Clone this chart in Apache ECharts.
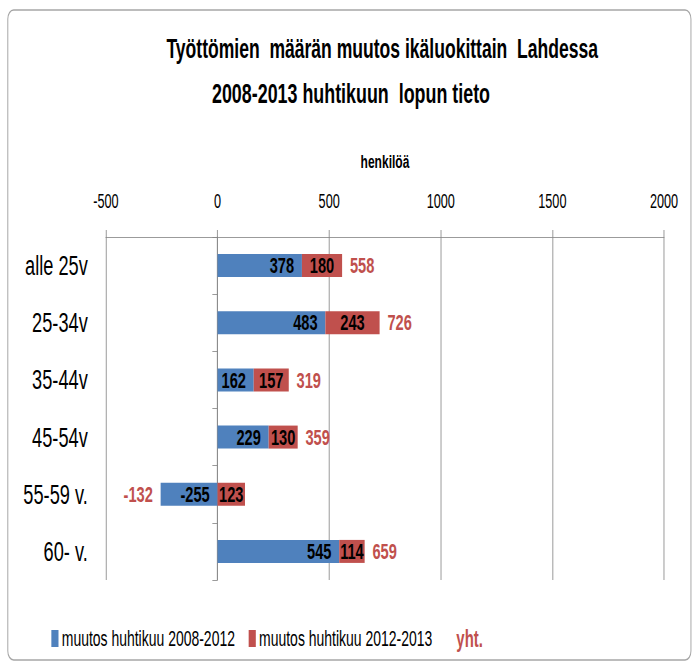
<!DOCTYPE html>
<html>
<head>
<meta charset="utf-8">
<script src="https://cdn.jsdelivr.net/npm/echarts@6/dist/echarts.min.js"></script>
<style>
  html, body { margin: 0; padding: 0; background: #fff; overflow: hidden; }
  #wrap { width: 699px; height: 664px; overflow: hidden; }
  /* Excel-kuvan teksti on kapeaa ja korkeaa: piirretään leveämpänä ja puristetaan vaakasuunnassa */
  #main { width: 1076px; height: 664px; transform: scaleX(0.65); transform-origin: 0 0; }
</style>
</head>
<body>
<div id="wrap"><div id="main"></div></div>
<script>
// ikäluokat ylhäältä alas
const ageGroups = ["alle 25v", "25-34v", "35-44v", "45-54v", "55-59 v.", "60- v."];
// muutokset (henkilöä)
const change2008_2012 = [378, 483, 162, 229, -255, 545];
const change2012_2013 = [180, 243, 157, 130, 123, 114];
const totals = [558, 726, 319, 359, -132, 659];
const xTicks = { min: -500, max: 2000, step: 500 };

const FONT = "'Liberation Sans', Arial, sans-serif";
const BLUE = "#4f81bd";
const RED = "#c0504d";
const GRID = "#868686";

const chart = echarts.init(document.getElementById("main"), null, { renderer: "svg" });

// yht.-sarja on näkymätön pino, teksti pinon "pohjan" puolelle
const totalData = totals.map(function (v) {
  return {
    value: v,
    label: { position: v < 0 ? "insideRight" : "insideLeft" }
  };
});

const option = {
  backgroundColor: "#fff",
  animation: false,
  textStyle: { fontFamily: FONT },
  graphic: [{
    type: "rect",
    shape: { x: 12, y: 10, width: 1051, height: 650, r: 9 },
    style: { fill: "none", stroke: "#a6a6a6", lineWidth: 1.5 },
    silent: true
  }],
  title: [{
    text: "Työttömien  määrän muutos ikäluokittain  Lahdessa",
    left: 583, top: 30, textAlign: "center",
    textStyle: { fontFamily: FONT, fontSize: 27, fontWeight: "bold", color: "#000" }
  }, {
    text: "2008-2013 huhtikuun  lopun tieto",
    left: 535, top: 75, textAlign: "center",
    textStyle: { fontFamily: FONT, fontSize: 27.5, fontWeight: "bold", color: "#000" }
  }],
  legend: {
    left: 74, top: 622,
    itemWidth: 11, itemHeight: 17, itemGap: 21,
    icon: "rect",
    textStyle: { fontFamily: FONT, fontSize: 21.5, color: "#000" },
    data: [
      { name: "muutos huhtikuu 2008-2012" },
      { name: "muutos huhtikuu 2012-2013" },
      { name: "yht.", itemStyle: { opacity: 0 }, textStyle: { color: RED, fontWeight: "bold", fontSize: 23 } }
    ],
    selectedMode: false
  },
  grid: { left: 163, right: 54.5, top: 237, bottom: 84, containLabel: false },
  xAxis: {
    type: "value",
    position: "top",
    min: xTicks.min, max: xTicks.max, interval: xTicks.step,
    name: "henkilöä",
    nameLocation: "middle",
    nameGap: 66,
    nameTextStyle: { fontFamily: FONT, fontSize: 18.5, fontWeight: "bold", color: "#000" },
    axisLine: { show: true, lineStyle: { color: GRID, width: 1 } },
    axisTick: { show: true, length: 7, lineStyle: { color: GRID } },
    axisLabel: {
      margin: 26, fontFamily: FONT, fontSize: 19.5, color: "#000",
      formatter: function (v) { return String(v); }
    },
    splitLine: { show: true, lineStyle: { color: GRID, width: 1 } }
  },
  yAxis: [{
    type: "category",
    data: ageGroups,
    inverse: true,
    position: "left",
    axisLine: { show: false, onZero: false },
    axisTick: { show: false },
    axisLabel: { margin: 28, fontFamily: FONT, fontSize: 28, color: "#000" }
  }, {
    type: "category",
    data: ageGroups,
    inverse: true,
    position: "left",
    axisLine: { show: true, onZero: true, lineStyle: { color: GRID, width: 1 } },
    axisTick: { show: true, length: 8, lineStyle: { color: GRID } },
    axisLabel: { show: false }
  }],
  series: [{
    name: "muutos huhtikuu 2008-2012",
    type: "bar",
    stack: "yht",
    barWidth: 23,
    data: change2008_2012,
    itemStyle: { color: BLUE },
    label: {
      show: true, position: "insideRight", distance: 12,
      fontFamily: FONT, fontSize: 22.5, fontWeight: "bold", color: "#000"
    }
  }, {
    name: "muutos huhtikuu 2012-2013",
    type: "bar",
    stack: "yht",
    barWidth: 23,
    data: change2012_2013,
    itemStyle: { color: RED },
    label: {
      show: true, position: "inside",
      fontFamily: FONT, fontSize: 22.5, fontWeight: "bold", color: "#000"
    }
  }, {
    name: "yht.",
    type: "bar",
    stack: "yht",
    barWidth: 23,
    data: totalData,
    itemStyle: { color: "rgba(0,0,0,0)" },
    label: {
      show: true, distance: 12,
      fontFamily: FONT, fontSize: 22.5, fontWeight: "bold", color: RED
    },
    silent: true
  }]
};

chart.setOption(option);
</script>
</body>
</html>
